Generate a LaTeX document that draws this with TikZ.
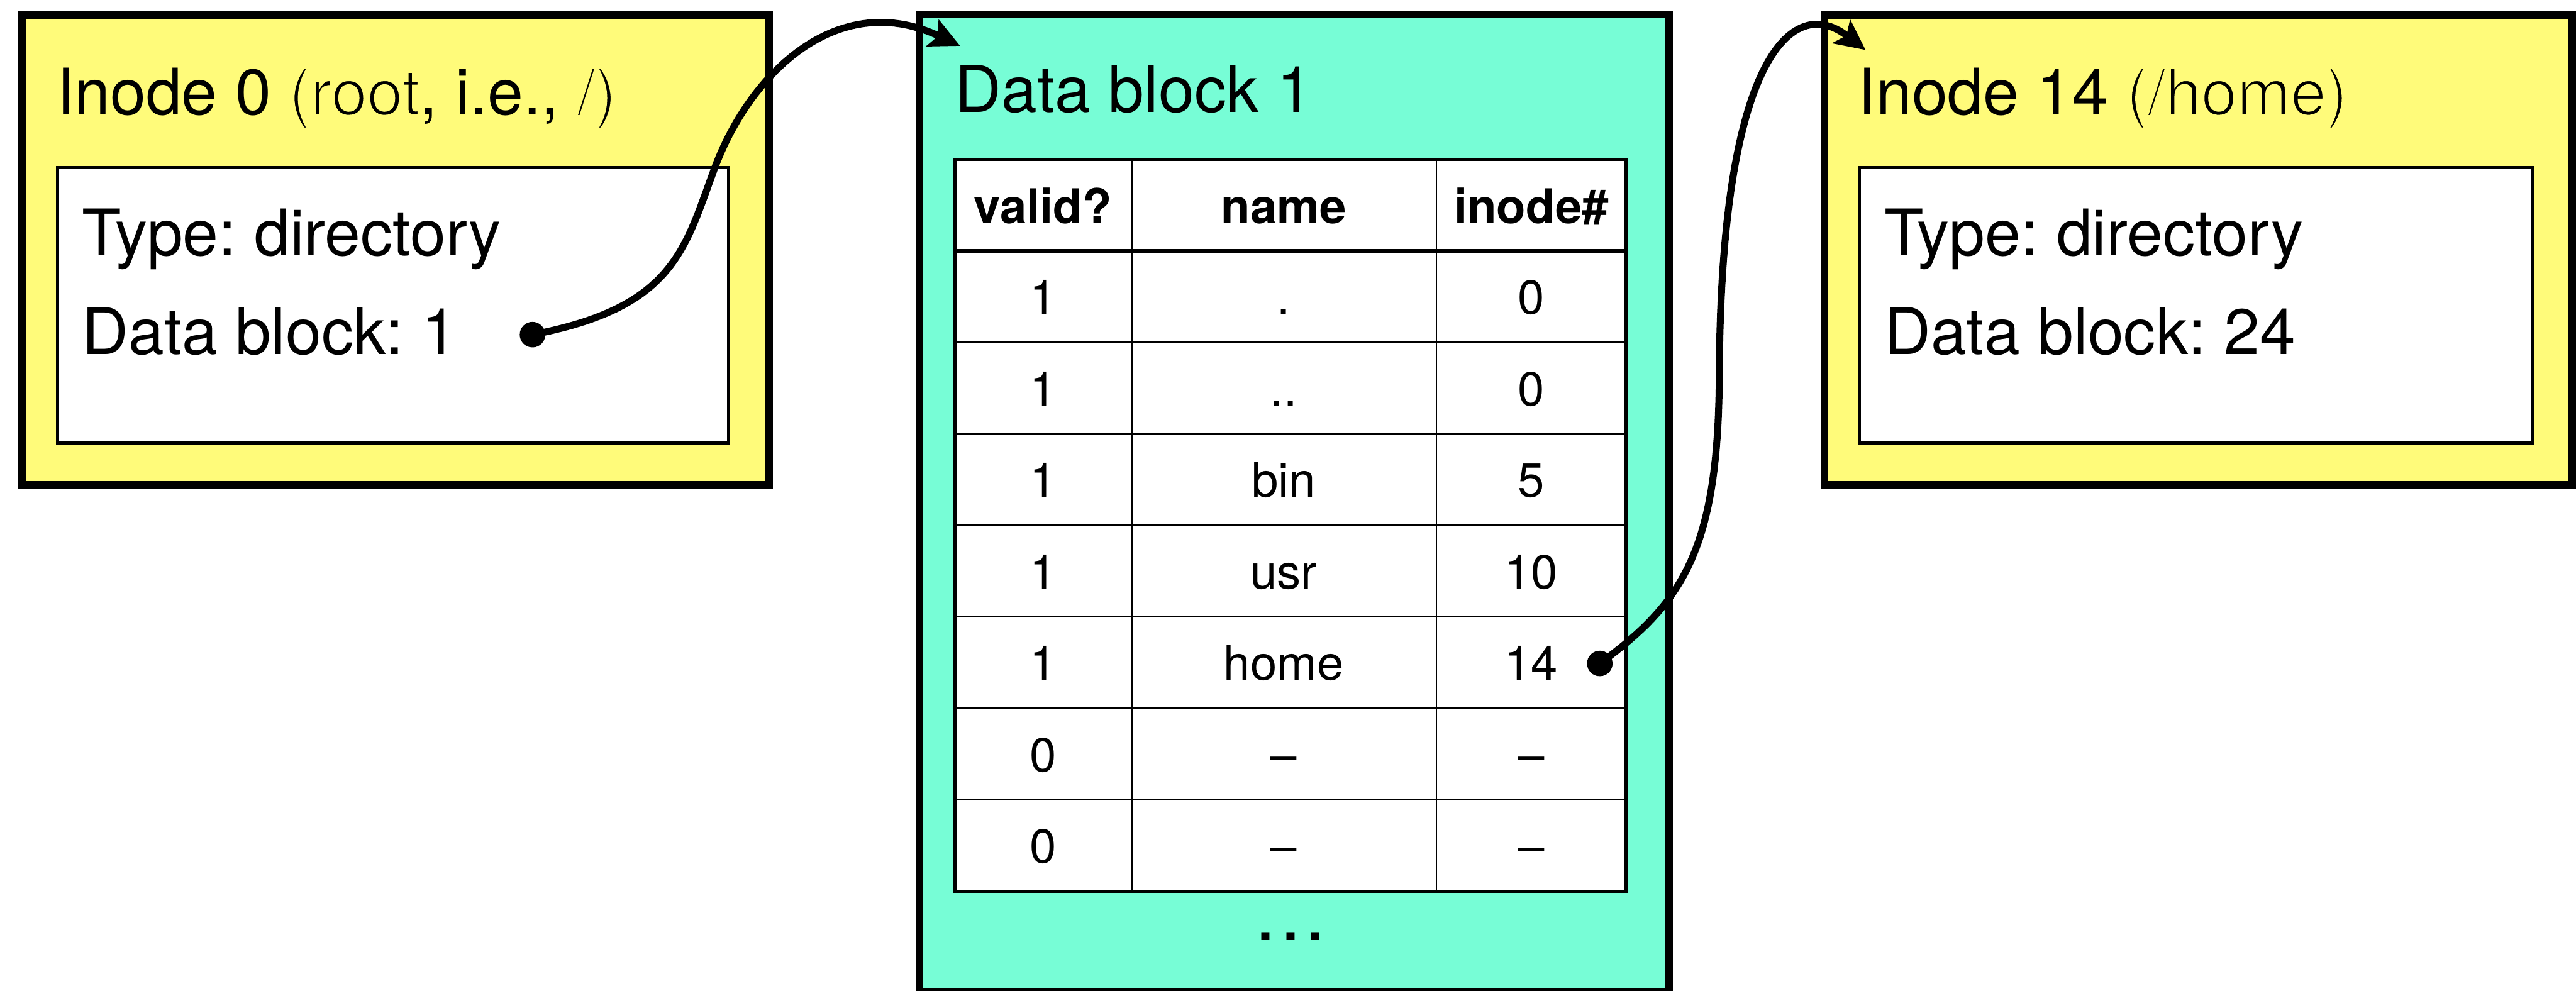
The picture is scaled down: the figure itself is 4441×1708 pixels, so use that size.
\documentclass[tikz,border=0pt]{standalone}
\usepackage{fontspec}
\setmainfont{TeX Gyre Heros}
\usetikzlibrary{arrows.meta}

\definecolor{inodeyellow}{RGB}{255,251,122}
\definecolor{blockmint}{RGB}{119,253,214}

% Thin face for the path parts of the titles: the glyphs are outlined in the
% panel colour, which trims their strokes.
\newcommand{\thinface}[1]{\special{pdf:code 2 Tr 1 0.984 0.478 RG 0.9 w}#1\special{pdf:code 0 Tr 0 G}}

\frenchspacing
\begin{document}
\begin{tikzpicture}[x=0.01cm, y=-0.01cm,
  panel/.style={draw=black, line width=0.13cm, inner sep=0, anchor=north west},
  infobox/.style={draw=black, fill=white, line width=0.05cm, inner sep=0, anchor=north west},
  bigtext/.style={font=\fontsize{31.5}{36}\selectfont, anchor=base west, inner sep=0},
  celltext/.style={font=\fontsize{23.5}{28}\selectfont, anchor=base, inner sep=0},
  headtext/.style={font=\fontsize{23.5}{28}\selectfont\bfseries, anchor=base, inner sep=0},
  gridline/.style={line width=0.025cm},
  gridframe/.style={line width=0.055cm},
  headrule/.style={line width=0.075cm},
  pointer/.style={line width=0.12cm,
    -{Stealth[length=0.53cm, width=0.52cm, inset=0.12cm, line width=0pt]}},
  dotmark/.style={circle, fill=black, inner sep=0, minimum size=0.44cm},
]
\useasboundingbox (0,0) rectangle (4441,1708);

% ---- inode 0 (the root directory) ----
\node[panel, fill=inodeyellow, minimum width=12.88cm, minimum height=8.10cm] (inode0) at (31,19) {};
\node[infobox, minimum width=11.56cm, minimum height=4.75cm] (inode0info) at (97,286) {};
\node[bigtext] (inode0title) at (97,198) {Inode 0 \thinface{(root}, i.e., \thinface{/)}};
\node[bigtext] (inode0type) at (141,441) {Type: directory};
\node[bigtext] (inode0data) at (141,611) {Data block: 1};

% ---- data block 1 ----
\node[panel, fill=blockmint, minimum width=12.91cm, minimum height=16.84cm] (block1) at (1579,18) {};
\node[bigtext] (block1title) at (1646,194) {Data block 1};

% directory table
\fill[white] (1646,275) rectangle (2803,1537);
\foreach \k in {2,...,7}{
  \pgfmathsetmacro{\yy}{275+157.75*\k}
  \draw[gridline] (1646,\yy) -- (2803,\yy);
}
\draw[gridline] (1951,275) -- (1951,1537);
\draw[gridline] (2476,275) -- (2476,1537);
\draw[headrule] (1646,433) -- (2803,433);
\draw[gridframe] (1646,275) rectangle (2803,1537);

\node[headtext] (hvalid) at (1798,385) {valid?};
\node[headtext] (hname)  at (2213,385) {name};
\node[headtext] (hinode) at (2640,385) {inode\#};

\foreach \a/\b/\c [count=\k] in {1/./0, 1/../0, 1/bin/5, 1/usr/10, 1/home/14, 0/–/–, 0/–/–}{
  \pgfmathsetmacro{\yy}{354+157.75*\k+30}
  \node[celltext] (valid\k) at (1798,\yy) {\a};
  \node[celltext] (name\k)  at (2213,\yy) {\b};
  \node[celltext] (inode\k) at (2640,\yy) {\c};
}

\node[font=\fontsize{26.5}{30}\selectfont\bfseries, anchor=base, inner sep=0] (more) at (2225,1621) {.\kern.184em.\kern.184em.};

% ---- inode 14 (/home) ----
\node[panel, fill=inodeyellow, minimum width=12.88cm, minimum height=8.10cm] (inode14) at (3139,19) {};
\node[infobox, minimum width=11.60cm, minimum height=4.75cm] (inode14info) at (3203,286) {};
\node[bigtext] (inode14title) at (3203,198) {Inode 14 \thinface{(/home)}};
\node[bigtext] (inode14type) at (3248,441) {Type: directory};
\node[bigtext] (inode14data) at (3248,611) {Data block: 24};

% ---- pointers ----
\node[dotmark] (rootptr) at (918,577) {};
\node[dotmark] (homeptr) at (2758,1144) {};
\coordinate (blockentry) at (1655,79);
\coordinate (homeentry) at (3216,86);

\draw[pointer] (rootptr.center) .. controls (1163,530) and (1180,430) .. (1232,290)
  .. controls (1295,121) and (1447,-18) .. (blockentry);
\draw[pointer] (homeptr.center) .. controls (2900,1040) and (2962,950) .. (2964,650)
  .. controls (2966,100) and (3090,-10) .. (homeentry);
\end{tikzpicture}
\end{document}
